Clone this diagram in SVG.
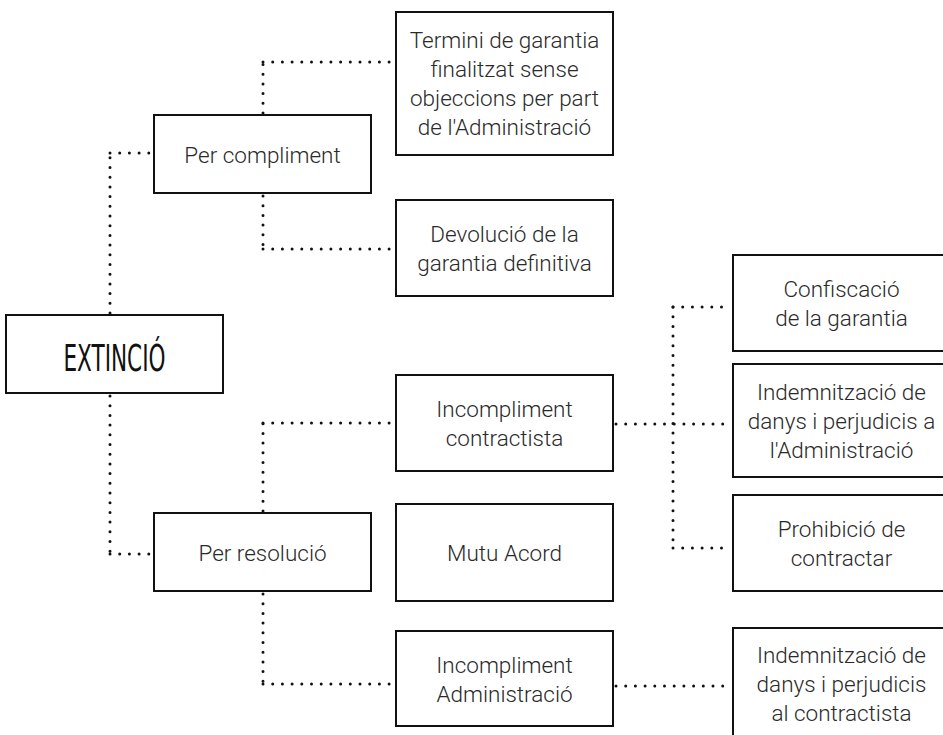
<svg xmlns="http://www.w3.org/2000/svg" width="943" height="735" viewBox="0 0 943 735">
<style>
.box{fill:#fff;stroke:#111;stroke-width:2}
.t{font-family:Roboto,"Liberation Sans",sans-serif;font-weight:300;font-size:22.5px;fill:#2a2a2a;text-anchor:middle}
.big{font-family:"Liberation Sans Narrow","DejaVu Sans Condensed",sans-serif;font-size:38px;fill:#111;text-anchor:middle}
.dot{fill:none;stroke:#111;stroke-width:3;stroke-linecap:round;stroke-dasharray:0 9.7}
</style>
<rect width="943" height="735" fill="#fff"/>
<g id="connectors">
<path class="dot" d="M110 313 V153"/><path class="dot" d="M110 153 H152"/>
<path class="dot" d="M110 396 V554"/><path class="dot" d="M110 554 H152"/>
<path class="dot" d="M263 113 V62"/><path class="dot" d="M263 62 H394"/>
<path class="dot" d="M263 196 V249"/><path class="dot" d="M263 249 H394"/>
<path class="dot" d="M263 511 V423"/><path class="dot" d="M263 423 H394"/>
<path class="dot" d="M263 594 V684"/><path class="dot" d="M263 684 H394"/>
<path class="dot" d="M616 424 H731"/>
<path class="dot" d="M673 307 V548"/><path class="dot" d="M673 307 H731"/><path class="dot" d="M673 548 H731"/>
<path class="dot" d="M616 686 H731"/>
</g>
<g id="extincio"><rect class="box" x="6" y="315" width="217" height="78"/><text class="big" x="114.5" y="371" textLength="102" lengthAdjust="spacingAndGlyphs">EXTINCIÓ</text></g>
<g id="per-compliment"><rect class="box" x="154" y="115" width="217" height="78"/><text class="t" x="262.5" y="163">Per compliment</text></g>
<g id="termini"><rect class="box" x="396" y="12" width="217" height="143"/><text class="t" x="504.5" y="48">Termini de garantia</text><text class="t" x="504.5" y="77">finalitzat sense</text><text class="t" x="504.5" y="106">objeccions per part</text><text class="t" x="504.5" y="135">de l'Administració</text></g>
<g id="devolucio"><rect class="box" x="396" y="200" width="217" height="96"/><text class="t" x="504.5" y="242">Devolució de la</text><text class="t" x="504.5" y="271">garantia definitiva</text></g>
<g id="per-resolucio"><rect class="box" x="154" y="513" width="217" height="78"/><text class="t" x="262.5" y="561">Per resolució</text></g>
<g id="incompliment-contractista"><rect class="box" x="396" y="375" width="217" height="96"/><text class="t" x="504.5" y="417">Incompliment</text><text class="t" x="504.5" y="446">contractista</text></g>
<g id="mutu-acord"><rect class="box" x="396" y="504" width="217" height="97"/><text class="t" x="504.5" y="561">Mutu Acord</text></g>
<g id="incompliment-administracio"><rect class="box" x="396" y="631" width="217" height="95"/><text class="t" x="504.5" y="673">Incompliment</text><text class="t" x="504.5" y="702">Administració</text></g>
<g id="confiscacio"><rect class="box" x="733" y="255" width="217" height="96"/><text class="t" x="841.5" y="297">Confiscació</text><text class="t" x="841.5" y="326">de la garantia</text></g>
<g id="indemnitzacio-administracio"><rect class="box" x="733" y="364" width="217" height="113"/><text class="t" x="841.5" y="400">Indemnització de</text><text class="t" x="841.5" y="429">danys i perjudicis a</text><text class="t" x="841.5" y="458">l'Administració</text></g>
<g id="prohibicio"><rect class="box" x="733" y="495" width="217" height="96"/><text class="t" x="841.5" y="537">Prohibició de</text><text class="t" x="841.5" y="566">contractar</text></g>
<g id="indemnitzacio-contractista"><rect class="box" x="733" y="628" width="217" height="113"/><text class="t" x="841.5" y="663">Indemnització de</text><text class="t" x="841.5" y="692">danys i perjudicis</text><text class="t" x="841.5" y="721">al contractista</text></g>
</svg>
